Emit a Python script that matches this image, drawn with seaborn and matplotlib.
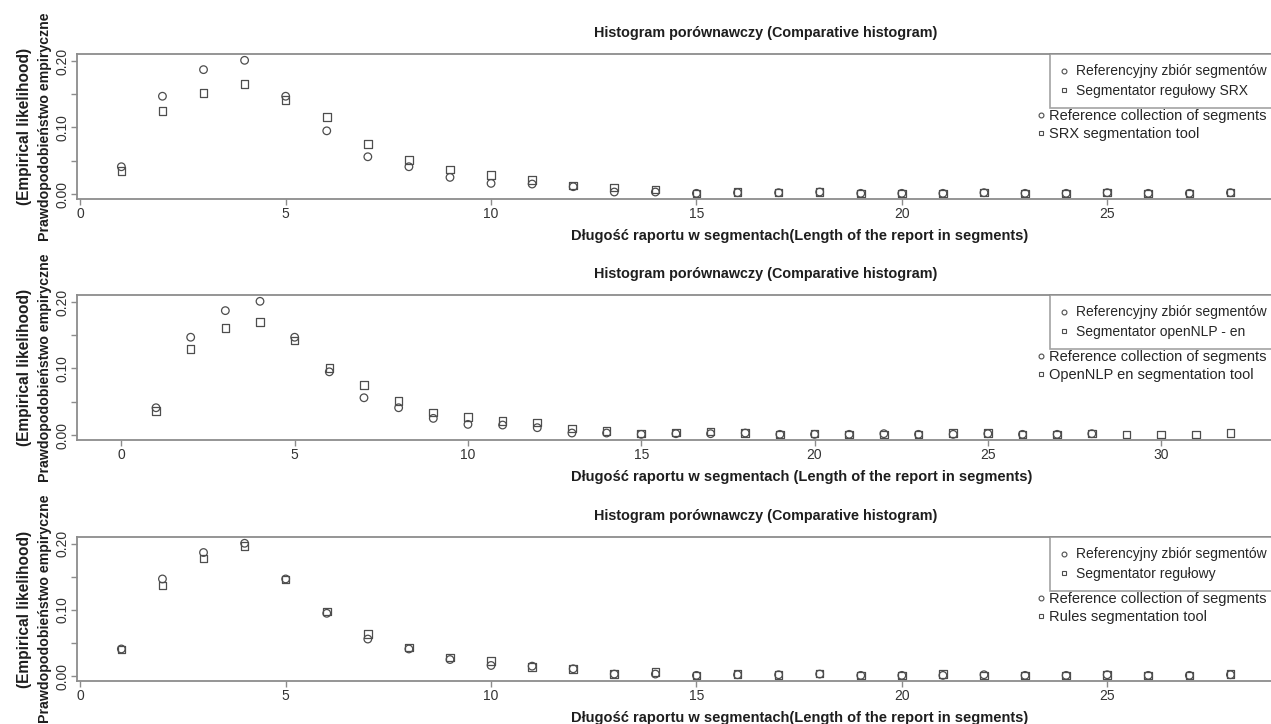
import numpy as np
import pandas as pd
import matplotlib
matplotlib.use("Agg")
import matplotlib.pyplot as plt
from matplotlib.lines import Line2D
import seaborn as sns

# ---- data ----
lengths_ref = list(range(1, 29))
ref_collection = [0.041, 0.147, 0.187, 0.201, 0.147, 0.095, 0.056, 0.041, 0.025, 0.016,
                  0.015, 0.011, 0.003, 0.003, 0.001, 0.002, 0.002, 0.003, 0.001, 0.001,
                  0.001, 0.002, 0.001, 0.001, 0.002, 0.001, 0.001, 0.002]

lengths_srx = list(range(1, 29))
srx_tool = [0.035, 0.125, 0.152, 0.165, 0.141, 0.116, 0.075, 0.051, 0.037, 0.029,
            0.021, 0.013, 0.010, 0.007, 0.001, 0.003, 0.002, 0.003, 0.001, 0.001,
            0.001, 0.002, 0.001, 0.001, 0.002, 0.001, 0.001, 0.002]

lengths_nlp = list(range(1, 33))
nlp_tool = [0.036, 0.129, 0.161, 0.170, 0.142, 0.101, 0.075, 0.051, 0.034, 0.027,
            0.021, 0.019, 0.010, 0.006, 0.002, 0.004, 0.005, 0.003, 0.001, 0.002,
            0.001, 0.001, 0.001, 0.003, 0.003, 0.001, 0.001, 0.002, 0.001, 0.001,
            0.001, 0.003]

lengths_rules = list(range(1, 29))
rules_tool = [0.040, 0.137, 0.178, 0.197, 0.146, 0.098, 0.064, 0.043, 0.028, 0.023,
              0.014, 0.011, 0.003, 0.006, 0.001, 0.003, 0.002, 0.004, 0.001, 0.001,
              0.003, 0.001, 0.001, 0.001, 0.002, 0.001, 0.001, 0.003]

panels = [
    dict(x=lengths_srx, y=srx_tool, xmax=28, xticks=[0, 5, 10, 15, 20, 25],
         pl="Segmentator regułowy SRX", en="SRX segmentation tool",
         xlabel="Długość raportu w segmentach(Length of the report in segments)"),
    dict(x=lengths_nlp, y=nlp_tool, xmax=32, xmin=0, xticks=[0, 5, 10, 15, 20, 25, 30],
         pl="Segmentator openNLP - en", en="OpenNLP en segmentation tool",
         xlabel="Długość raportu w segmentach (Length of the report in segments)"),
    dict(x=lengths_rules, y=rules_tool, xmax=28, xticks=[0, 5, 10, 15, 20, 25],
         pl="Segmentator regułowy", en="Rules segmentation tool",
         xlabel="Długość raportu w segmentach(Length of the report in segments)"),
]

sns.set_theme(style="ticks")
plt.rcParams["font.family"] = ["Liberation Sans", "DejaVu Sans"]

W, H = 1271, 724
fig = plt.figure(figsize=(W / 100, H / 100), dpi=100)
GRAY = "#8c8c8c"
MARK = "#4d4d4d"
TXT = "#1e1e1e"

# axes boxes in pixels (top, bottom)
boxes = [(54, 199), (295, 440), (537, 681)]
left_px = 77

for p, (top, bot) in zip(panels, boxes):
    ax = fig.add_axes([left_px / W, 1 - bot / H, 1.003 - left_px / W, (bot - top) / H])
    df = pd.concat([
        pd.DataFrame({"len": lengths_ref, "p": ref_collection, "src": "ref"}),
        pd.DataFrame({"len": p["x"], "p": p["y"], "src": "tool"}),
    ])
    for src, mk in [("ref", "o"), ("tool", "s")]:
        sns.scatterplot(data=df[df.src == src], x="len", y="p", marker=mk, s=30,
                        facecolor="none", edgecolor=MARK, linewidth=0.9, ax=ax)
    xmin = p.get("xmin", 1)
    ext = 0.04 * (p["xmax"] - xmin)
    ax.set_xlim(xmin - ext, p["xmax"] + ext)
    ax.set_ylim(-0.0075, 0.2105)
    ax.set_xticks(p["xticks"])
    ax.set_yticks([0.0, 0.05, 0.10, 0.15, 0.20])
    ax.set_yticklabels(["0.00", "", "0.10", "", "0.20"], rotation=90, va="center")
    ax.tick_params(axis="both", color=GRAY, length=4, width=1, labelsize=10,
                   labelcolor="#333333", pad=1.5)
    ax.set_xlabel("")
    ax.set_ylabel("")
    for s in ax.spines.values():
        s.set_color(GRAY)
        s.set_linewidth(1.3)

    # titles / labels placed like the R figure
    fig.text(766 / W, 1 - (top - 21) / H, "Histogram porównawczy (Comparative histogram)",
             ha="center", va="center", fontsize=10.4, fontweight="bold", color=TXT)
    fig.text(571 / W, 1 - (bot + 37) / H, p["xlabel"], ha="left", va="center",
             fontsize=10.5, fontweight="bold", color=TXT)
    yc = 1 - (top + bot) / 2 / H
    fig.text(45 / W, yc, "Prawdopodobieństwo empiryczne", rotation=90, ha="center",
             va="center", fontsize=10.2, fontweight="bold", color=TXT)
    fig.text(25 / W, yc, "(Empirical likelihood)", rotation=90, ha="center",
             va="center", fontsize=11.2, fontweight="bold", color=TXT)

    h = [Line2D([], [], ls="", marker="o", ms=3.5, mfc="none", mec=MARK, mew=0.8),
         Line2D([], [], ls="", marker="s", ms=3.5, mfc="none", mec=MARK, mew=0.8)]
    leg1 = ax.legend(h, ["Referencyjny zbiór segmentów", p["pl"]], loc="upper left",
                     bbox_to_anchor=(1050 / W, 1 - top / H), bbox_transform=fig.transFigure,
                     fontsize=10, frameon=True, fancybox=False, borderpad=0.75,
                     handlelength=0.5, handletextpad=0.6, labelspacing=0.4,
                     borderaxespad=0)
    leg1.get_frame().set_edgecolor(GRAY)
    leg1.get_frame().set_linewidth(1.2)
    leg1.get_frame().set_facecolor("white")
    ax.add_artist(leg1)
    ax.legend(h, ["Reference collection of segments", p["en"]], loc="upper left",
              bbox_to_anchor=(1035 / W, 1 - (top + 55) / H), bbox_transform=fig.transFigure,
              fontsize=10.5, frameon=False, borderpad=0, handlelength=0.8,
              handletextpad=0.15, labelspacing=0.3, borderaxespad=0)

fig.savefig("out.png", dpi=100)
